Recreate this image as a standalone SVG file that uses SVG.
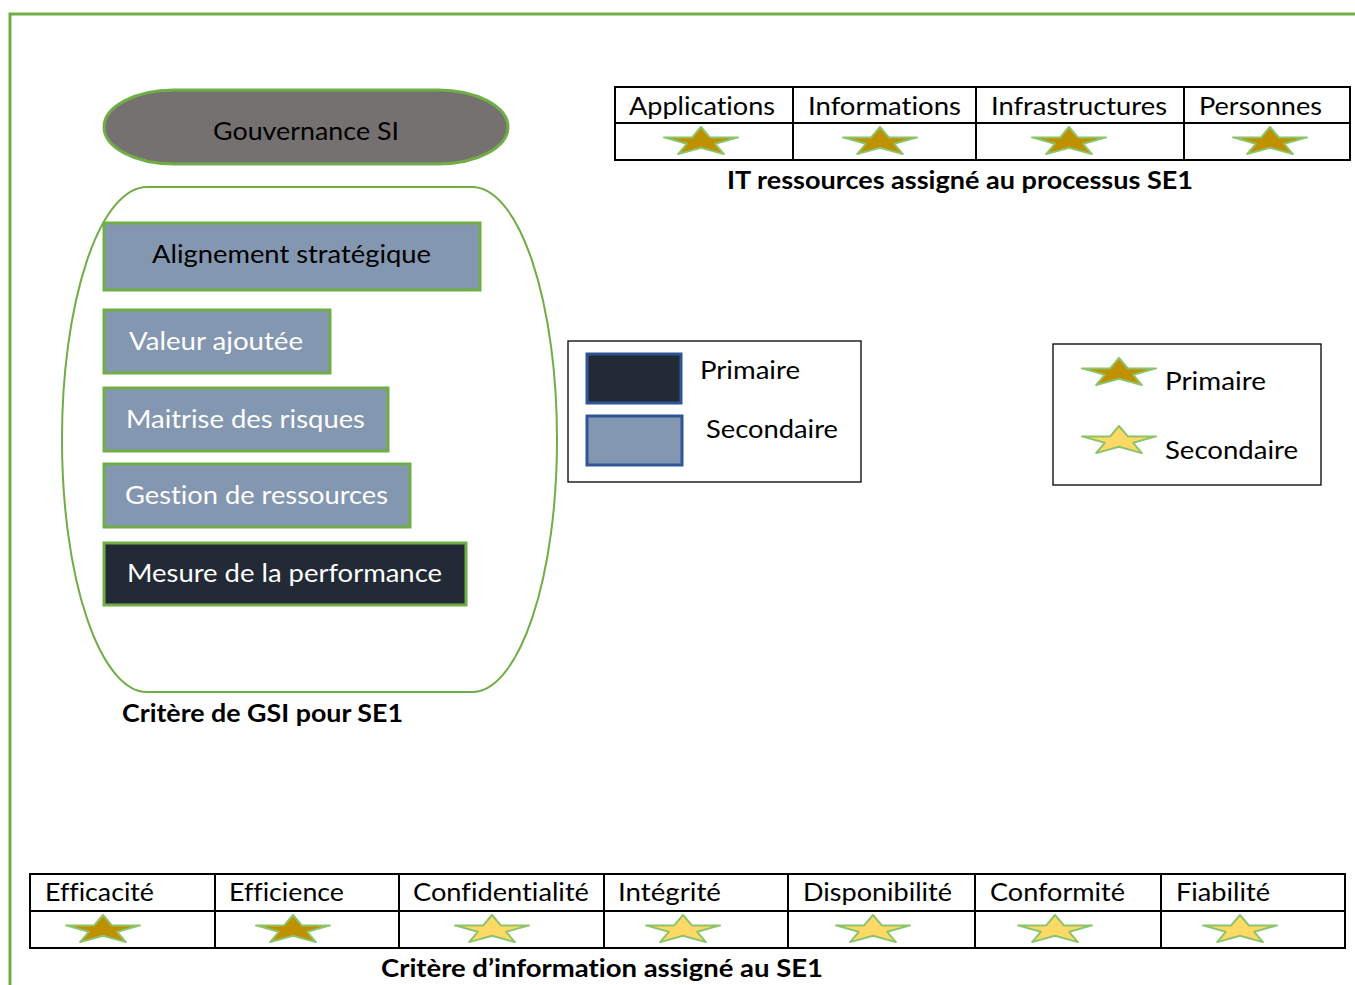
<svg xmlns="http://www.w3.org/2000/svg" width="1355" height="985" viewBox="0 0 1355 985">
  <style>
    text { font-family: Lato, "Liberation Sans", sans-serif; font-size: 25px; fill: #000; font-variant-ligatures: none; font-feature-settings: "liga" 0, "clig" 0; }
    .b { font-weight: bold; font-size: 24px; }
    .w { fill: #fff; }
    .frame { fill: none; stroke: #70AD47; stroke-width: 3; }
    .grid { fill: none; stroke: #000; stroke-width: 2; }
    .box { stroke: #70AD47; stroke-width: 3; }
    .sec { fill: #8497B0; }
    .pri { fill: #222A35; }
    .lg { stroke: #2F5597; stroke-width: 3; }
    .s1 { fill: #BF9000; }
    .s2 { fill: #FFD966; }
    .star { stroke: #8CC46A; stroke-width: 2; stroke-linejoin: round; }
    .legend { fill: #fff; stroke: #000; stroke-width: 1.3; }
  </style>
  <defs>
    <!-- flattened five-point star, 78 wide, ~27 high, centred on the origin -->
    <polygon id="star" points="0,-15 8.8,-4.6 37.1,-4.6 14.2,1.8 22.9,12.1 0,5.7 -22.9,12.1 -14.2,1.8 -37.1,-4.6 -8.8,-4.6"/>
  </defs>

  <rect width="1355" height="985" fill="#fff"/>

  <!-- page frame -->
  <path class="frame" d="M10,985 V14 H1355"/>

  <!-- governance side -->
  <g id="gouvernance">
    <rect x="104" y="90" width="404" height="74" rx="70" ry="37" fill="#767171" class="box"/>
    <text x="306" y="140" text-anchor="middle" textLength="186" lengthAdjust="spacingAndGlyphs">Gouvernance SI</text>
  </g>

  <g id="criteres-gsi">
    <rect x="62" y="187" width="495" height="505" rx="85" ry="252" fill="none" stroke="#70AD47" stroke-width="2"/>
    <text class="b" x="122" y="722" textLength="281" lengthAdjust="spacingAndGlyphs">Critère de GSI pour SE1</text>
  </g>

  <g id="alignement">
    <rect class="box sec" x="104" y="223" width="376" height="67"/>
    <text x="152" y="263" textLength="279" lengthAdjust="spacingAndGlyphs">Alignement stratégique</text>
  </g>
  <g id="valeur">
    <rect class="box sec" x="104" y="310" width="226" height="63"/>
    <text class="w" x="129" y="350" textLength="174" lengthAdjust="spacingAndGlyphs">Valeur ajoutée</text>
  </g>
  <g id="risques">
    <rect class="box sec" x="104" y="388" width="284" height="63"/>
    <text class="w" x="126" y="428" textLength="239" lengthAdjust="spacingAndGlyphs">Maitrise des risques</text>
  </g>
  <g id="ressources">
    <rect class="box sec" x="104" y="464" width="306" height="63"/>
    <text class="w" x="125" y="504" textLength="263" lengthAdjust="spacingAndGlyphs">Gestion de ressources</text>
  </g>
  <g id="performance">
    <rect class="box pri" x="104" y="543" width="362" height="62"/>
    <text class="w" x="127" y="582" textLength="315" lengthAdjust="spacingAndGlyphs">Mesure de la performance</text>
  </g>

  <!-- IT resources table -->
  <g id="it-ressources">
    <rect class="grid" x="615" y="87" width="735" height="73"/>
    <path class="grid" d="M615,123 H1350 M793,87 V160 M976,87 V160 M1184,87 V160"/>
    <text x="629" y="115" textLength="146" lengthAdjust="spacingAndGlyphs">Applications</text>
    <text x="808" y="115" textLength="153" lengthAdjust="spacingAndGlyphs">Informations</text>
    <text x="991" y="115" textLength="176" lengthAdjust="spacingAndGlyphs">Infrastructures</text>
    <text x="1199" y="115" textLength="123" lengthAdjust="spacingAndGlyphs">Personnes</text>
    <use href="#star" class="star s1" x="701" y="142"/>
    <use href="#star" class="star s1" x="880" y="142"/>
    <use href="#star" class="star s1" x="1069" y="142"/>
    <use href="#star" class="star s1" x="1270" y="142"/>
    <text class="b" x="727" y="189" textLength="466" lengthAdjust="spacingAndGlyphs">IT ressources assigné au processus SE1</text>
  </g>

  <!-- legend: boxes -->
  <g id="legende-boites">
    <rect class="legend" x="568" y="341" width="293" height="141"/>
    <rect class="lg pri" x="587" y="354" width="94" height="49"/>
    <rect class="lg sec" x="587" y="416" width="95" height="49"/>
    <text x="700" y="379" textLength="100" lengthAdjust="spacingAndGlyphs">Primaire</text>
    <text x="706" y="438" textLength="132" lengthAdjust="spacingAndGlyphs">Secondaire</text>
  </g>

  <!-- legend: stars -->
  <g id="legende-etoiles">
    <rect class="legend" x="1053" y="344" width="268" height="141"/>
    <use href="#star" class="star s1" x="1119" y="373"/>
    <use href="#star" class="star s2" x="1119" y="441"/>
    <text x="1165" y="390" textLength="101" lengthAdjust="spacingAndGlyphs">Primaire</text>
    <text x="1165" y="459" textLength="133" lengthAdjust="spacingAndGlyphs">Secondaire</text>
  </g>

  <!-- information criteria table -->
  <g id="criteres-information">
    <rect class="grid" x="30" y="874" width="1315" height="74"/>
    <path class="grid" d="M30,911 H1345 M215,874 V948 M399,874 V948 M604,874 V948 M788,874 V948 M975,874 V948 M1161,874 V948"/>
    <text x="45" y="901" textLength="109" lengthAdjust="spacingAndGlyphs">Efficacité</text>
    <text x="229" y="901" textLength="115" lengthAdjust="spacingAndGlyphs">Efficience</text>
    <text x="413" y="901" textLength="176" lengthAdjust="spacingAndGlyphs">Confidentialité</text>
    <text x="618" y="901" textLength="103" lengthAdjust="spacingAndGlyphs">Intégrité</text>
    <text x="803" y="901" textLength="149" lengthAdjust="spacingAndGlyphs">Disponibilité</text>
    <text x="990" y="901" textLength="135" lengthAdjust="spacingAndGlyphs">Conformité</text>
    <text x="1176" y="901" textLength="94" lengthAdjust="spacingAndGlyphs">Fiabilité</text>
    <use href="#star" class="star s1" x="103" y="930"/>
    <use href="#star" class="star s1" x="293" y="930"/>
    <use href="#star" class="star s2" x="492" y="930"/>
    <use href="#star" class="star s2" x="683" y="930"/>
    <use href="#star" class="star s2" x="873" y="930"/>
    <use href="#star" class="star s2" x="1055" y="930"/>
    <use href="#star" class="star s2" x="1240" y="930"/>
    <text class="b" x="381" y="977" textLength="442" lengthAdjust="spacingAndGlyphs">Critère d’information assigné au SE1</text>
  </g>
</svg>
